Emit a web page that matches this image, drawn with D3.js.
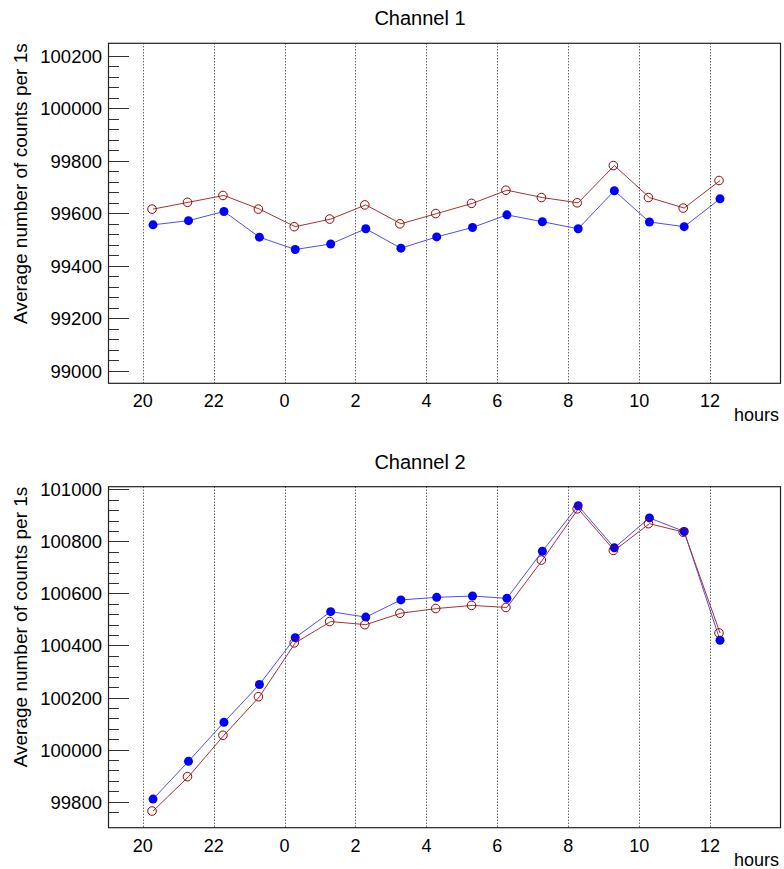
<!DOCTYPE html>
<html><head><meta charset="utf-8">
<script src="https://cdn.jsdelivr.net/npm/d3@7"></script>
<style>body{margin:0;background:#fff}svg{display:block}</style>
</head><body>
<script>
// ---- data ----
const hours = [20.29, 21.29, 22.29, 23.29, 24.30, 25.30, 26.29, 27.28, 28.29, 29.30, 30.27, 31.27, 32.28, 33.30, 34.29, 35.27, 36.28];
const ch1Blue = [99556, 99572, 99607, 99509, 99462, 99483, 99541, 99467, 99510, 99546, 99594, 99568, 99541, 99686, 99567, 99549, 99655];
const ch1Red  = [99616, 99642, 99668, 99616, 99549, 99578, 99632, 99560, 99599, 99638, 99688, 99660, 99640, 99782, 99660, 99620, 99725];
const ch2Blue = [99810, 99955, 100105, 100250, 100430, 100530, 100509, 100575, 100585, 100590, 100581, 100762, 100937, 100775, 100890, 100838, 100420];
const ch2Red  = [99764, 99896, 100055, 100203, 100410, 100492, 100480, 100524, 100542, 100554, 100546, 100728, 100925, 100765, 100868, 100835, 100448];
const xTicks = [20, 22, 24, 26, 28, 30, 32, 34, 36];
const xTickLabels = ["20", "22", "0", "2", "4", "6", "8", "10", "12"];
const ch1YTicks = [99000, 99200, 99400, 99600, 99800, 100000, 100200];
const ch2YTicks = [99800, 100000, 100200, 100400, 100600, 100800, 101000];
const titles = ["Channel 1", "Channel 2"];
const yLabel = "Average number of counts per 1s";
const xLabel = "hours";

const W = 784, H = 869;
const FONT = "'Liberation Sans', Arial, Helvetica, sans-serif";
const svg = d3.select("body").append("svg").attr("width", W).attr("height", H)
  .style("font-family", FONT);

const panels = [
  {title: titles[0], top: 43.3, bottom: 383.3, yDomain: [98952, 100248], yTicks: ch1YTicks, blue: ch1Blue, red: ch1Red, titleY: 25},
  {title: titles[1], top: 486.7, bottom: 827.7, yDomain: [99700, 101010], yTicks: ch2YTicks, blue: ch2Blue, red: ch2Red, titleY: 468.5}
];
const left = 108, right = 781;
const xDomain = [19.02, 38.0];

panels.forEach(p => {
  const g = svg.append("g");
  const x = d3.scaleLinear().domain(xDomain).range([left, right]);
  const y = d3.scaleLinear().domain(p.yDomain).range([p.bottom, p.top]);

  // grid lines
  g.selectAll("line.grid").data(xTicks).join("line")
    .attr("x1", d => Math.round(x(d)) + 0.5).attr("x2", d => Math.round(x(d)) + 0.5)
    .attr("y1", p.top).attr("y2", p.bottom)
    .attr("stroke", "#222").attr("stroke-width", 1).attr("stroke-dasharray", "1,2");

  // minor ticks
  const step = p.yTicks[1] - p.yTicks[0];
  const minor = [];
  for (let v = p.yTicks[0] - step; v <= p.yTicks[p.yTicks.length - 1] + step; v += step / 5) {
    const py = y(v);
    if (py > p.top + 6 && py < p.bottom - 6 && !p.yTicks.includes(Math.round(v))) minor.push(Math.round(v));
  }
  g.selectAll("line.minor").data(minor).join("line")
    .attr("x1", left).attr("x2", left + 11)
    .attr("y1", d => Math.round(y(d)) + 0.5).attr("y2", d => Math.round(y(d)) + 0.5)
    .attr("stroke", "#333").attr("stroke-width", 1);
  g.selectAll("line.major").data(p.yTicks).join("line")
    .attr("x1", left).attr("x2", left + 21)
    .attr("y1", d => Math.round(y(d)) + 0.5).attr("y2", d => Math.round(y(d)) + 0.5)
    .attr("stroke", "#333").attr("stroke-width", 1);
  g.selectAll("text.ytl").data(p.yTicks).join("text")
    .attr("x", 102).attr("y", d => y(d) + 7)
    .attr("text-anchor", "end").attr("font-size", 18.5).attr("fill", "#000")
    .text(d => d);

  // x tick labels
  g.selectAll("text.xtl").data(xTicks).join("text")
    .attr("x", d => x(d)).attr("y", p.bottom + 24)
    .attr("text-anchor", "middle").attr("font-size", 18).attr("fill", "#000")
    .text((d, i) => xTickLabels[i]);

  // frame
  g.append("rect").attr("x", left + 0.5).attr("y", p.top).attr("width", right - left - 1).attr("height", p.bottom - p.top)
    .attr("fill", "none").attr("stroke", "#222").attr("stroke-width", 1.2);

  // series
  const line = d3.line().x((d, i) => x(hours[i])).y(d => y(d));
  g.append("path").datum(p.blue).attr("d", line).attr("fill", "none").attr("stroke", "#4d4dff").attr("stroke-width", 1);
  g.append("path").datum(p.red).attr("d", line).attr("fill", "none").attr("stroke", "#a83232").attr("stroke-width", 1);
  g.selectAll("circle.b").data(p.blue).join("circle")
    .attr("cx", (d, i) => x(hours[i])).attr("cy", d => y(d)).attr("r", 4.5)
    .attr("fill", "#0000ff");
  g.selectAll("circle.r").data(p.red).join("circle")
    .attr("cx", (d, i) => x(hours[i]) - 1).attr("cy", d => y(d)).attr("r", 4.3)
    .attr("fill", "none").attr("stroke", "#a00000").attr("stroke-width", 1);

  // title
  g.append("text").attr("x", 420).attr("y", p.titleY).attr("text-anchor", "middle")
    .attr("font-size", 20).attr("fill", "#000").text(p.title);
  // y label
  g.append("text").attr("transform", `translate(27,${p.top}) rotate(-90)`)
    .attr("text-anchor", "end").attr("font-size", 19).attr("fill", "#000").text(yLabel);
  // x label
  g.append("text").attr("x", right - 2).attr("y", p.bottom + 38).attr("text-anchor", "end")
    .attr("font-size", 18).attr("fill", "#000").text(xLabel);
});
</script>
</body></html>
